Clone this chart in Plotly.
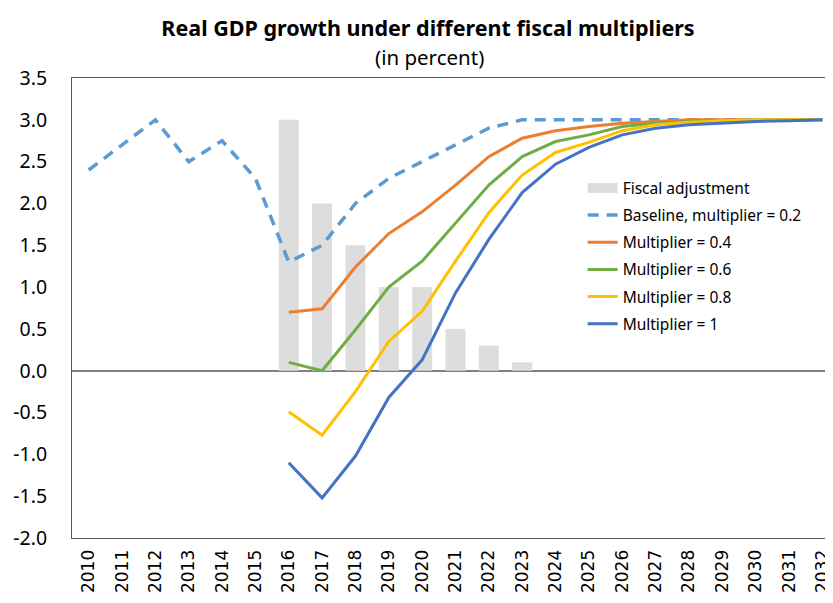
import plotly.graph_objects as go

years = [str(y) for y in range(2010, 2033)]

fiscal_years = ["2016", "2017", "2018", "2019", "2020", "2021", "2022", "2023"]
fiscal_adjustment = [3.0, 2.0, 1.5, 1.0, 1.0, 0.5, 0.3, 0.1]

baseline = [2.4, 2.7, 3.0, 2.5, 2.75, 2.3, 1.3, 1.5, 2.0, 2.3, 2.5, 2.7, 2.9, 3.0,
            3.0, 3.0, 3.0, 3.0, 3.0, 3.0, 3.0, 3.0, 3.0]

sim_years = [str(y) for y in range(2016, 2033)]
mult_04 = [0.70, 0.74, 1.24, 1.64, 1.90, 2.22, 2.56, 2.78, 2.87, 2.92, 2.96, 2.98, 3.0, 3.0, 3.0, 3.0, 3.0]
mult_06 = [0.10, 0.0, 0.49, 1.0, 1.31, 1.77, 2.22, 2.56, 2.74, 2.82, 2.92, 2.96, 2.98, 2.99, 3.0, 3.0, 3.0]
mult_08 = [-0.49, -0.77, -0.25, 0.35, 0.71, 1.31, 1.89, 2.34, 2.61, 2.73, 2.87, 2.94, 2.97, 2.99, 3.0, 3.0, 3.0]
mult_10 = [-1.10, -1.52, -1.02, -0.32, 0.13, 0.93, 1.57, 2.13, 2.47, 2.67, 2.82, 2.90, 2.94, 2.96, 2.98, 2.99, 3.0]

y_tick_values = [-2.0, -1.5, -1.0, -0.5, 0.0, 0.5, 1.0, 1.5, 2.0, 2.5, 3.0, 3.5]
y_tick_labels = ["-2.0", "-1.5", "-1.0", "-0.5", "0.0", "0.5", "1.0", "1.5", "2.0", "2.5", "3.0", "3.5"]

font_family = "Noto Sans"
BAR_COLOR = "#DDDDDD"

# The page body has an 8px default margin; the figure is sized to fill the rest of the window.
W, H = 825, 595
L, T, B = 64, 70, 65
PLOT_W, PLOT_H = W - L, H - T - B

fig = go.Figure()
fig.add_trace(go.Bar(x=fiscal_years, y=fiscal_adjustment, name="Fiscal adjustment",
                     marker=dict(color=BAR_COLOR, line=dict(width=0)),
                     showlegend=False, legendgroup="g0"))
# legend entry for the bars (wide rectangle swatch, as in the reference)
fig.add_trace(go.Scatter(x=[None], y=[None], mode="lines", name="Fiscal adjustment",
                         line=dict(color=BAR_COLOR, width=11), legendgroup="g0"))
fig.add_trace(go.Scatter(x=years, y=baseline, mode="lines", name="Baseline, multiplier = 0.2",
                         line=dict(color="#5B9BD5", width=3.5, dash="11px,8px"), legendgroup="g1"))
fig.add_trace(go.Scatter(x=sim_years, y=mult_04, mode="lines", name="Multiplier = 0.4",
                         line=dict(color="#ED7D31", width=3), legendgroup="g2"))
fig.add_trace(go.Scatter(x=sim_years, y=mult_06, mode="lines", name="Multiplier = 0.6",
                         line=dict(color="#70AD47", width=3), legendgroup="g3"))
fig.add_trace(go.Scatter(x=sim_years, y=mult_08, mode="lines", name="Multiplier = 0.8",
                         line=dict(color="#FFC000", width=3), legendgroup="g4"))
fig.add_trace(go.Scatter(x=sim_years, y=mult_10, mode="lines", name="Multiplier = 1",
                         line=dict(color="#4472C4", width=3), legendgroup="g5"))

fig.update_layout(
    width=W, height=H,
    margin=dict(l=L, r=0, t=T, b=B, pad=0),
    paper_bgcolor="white", plot_bgcolor="white",
    font=dict(family=font_family, size=16, color="black"),
    bargap=0.4,
    title=dict(text="<b>Real GDP growth under different fiscal multipliers</b>",
               x=420 / W, xanchor="center", y=1 - 20 / H, yanchor="middle",
               font=dict(family=font_family, size=21.5, color="black")),
    annotations=[dict(text="(in percent)", xref="paper", yref="paper",
                      x=(421 - L) / PLOT_W, y=1 + (T - 49) / PLOT_H, xanchor="center", yanchor="middle",
                      showarrow=False, font=dict(family=font_family, size=20.5, color="black"))],
    legend=dict(x=0.671, y=0.797, xanchor="left", yanchor="top",
                bgcolor="rgba(0,0,0,0)", font=dict(size=15.5),
                tracegroupgap=4, itemwidth=30),
    showlegend=True,
)
fig.update_xaxes(type="category", categoryorder="array", categoryarray=years,
                 range=[-0.5, 22.32], tickangle=-90, showgrid=False,
                 showline=True, linecolor="#595959", linewidth=1, mirror=True,
                 ticks="", ticklabelstandoff=4, automargin=False,
                 tickfont=dict(family="DejaVu Sans", size=17))
fig.update_yaxes(range=[-2.0, 3.5], tickmode="array", tickvals=y_tick_values, ticktext=y_tick_labels,
                 showgrid=False,
                 showline=True, linecolor="#595959", linewidth=1, mirror=False,
                 zeroline=True, zerolinecolor="#7F7F7F", zerolinewidth=2,
                 ticks="", ticklabelstandoff=20, automargin=False,
                 tickfont=dict(size=19.5))

fig.write_html("out.html")
